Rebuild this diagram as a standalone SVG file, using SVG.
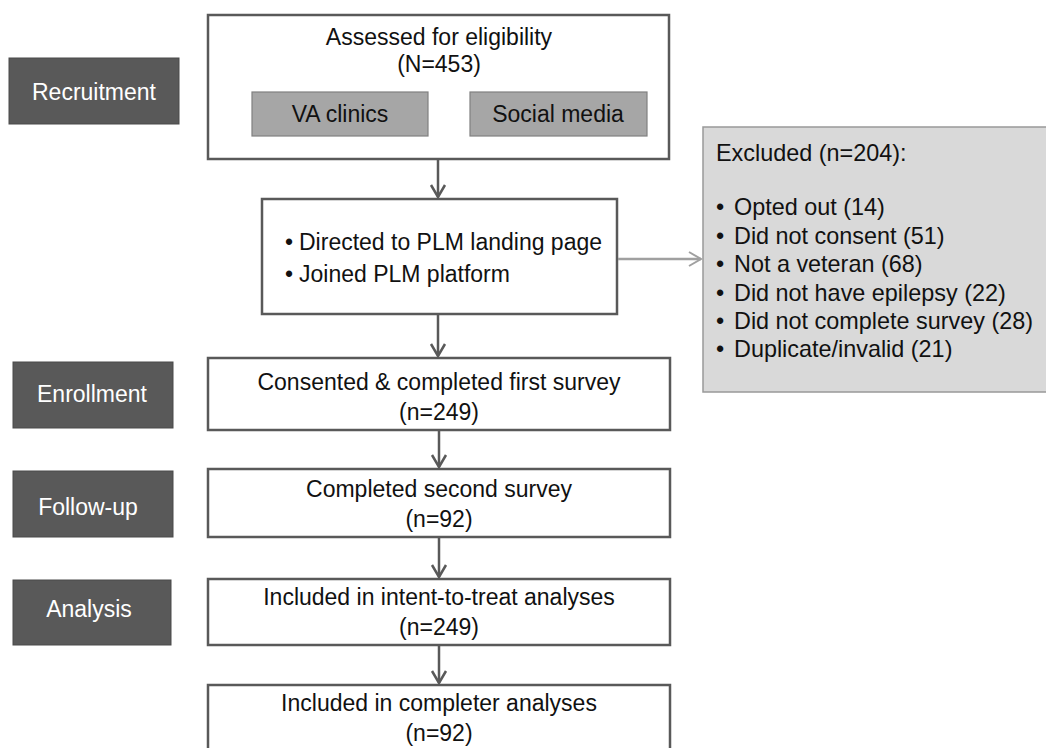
<svg xmlns="http://www.w3.org/2000/svg" width="1046" height="748" viewBox="0 0 1046 748">
<style>
text{font-family:"Liberation Sans",Arial,sans-serif;font-size:23px;fill:#111}
.stage rect{fill:#595959;stroke:#4a4a4a;stroke-width:1}
.stage text{fill:#fff;text-anchor:middle}
.main rect{fill:#fff;stroke:#595959;stroke-width:2.5}
.main text{text-anchor:middle}
.src rect{fill:#a6a6a6;stroke:#808080;stroke-width:1.2}
.src text{text-anchor:middle}
#excluded text{font-size:23.4px}
.conn{stroke:#595959;stroke-width:2.5;fill:none}
.conn-light{stroke:#a0a0a0;stroke-width:2.5;fill:none}
</style>
<defs>
<marker id="arr" markerUnits="userSpaceOnUse" markerWidth="16" markerHeight="18" viewBox="0 0 16 18" refX="13" refY="9" orient="auto">
<path d="M1,2 L13,9 L1,16" fill="none" stroke="#595959" stroke-width="2.5"/>
</marker>
<marker id="arrl" markerUnits="userSpaceOnUse" markerWidth="16" markerHeight="18" viewBox="0 0 16 18" refX="13" refY="9" orient="auto">
<path d="M1,2 L13,9 L1,16" fill="none" stroke="#a0a0a0" stroke-width="2"/>
</marker>
</defs>
<rect width="1046" height="748" fill="#fff"/>

<g id="stage-recruitment" class="stage"><rect x="9" y="58" width="170" height="66"/><text x="94" y="100">Recruitment</text></g>
<g id="stage-enrollment" class="stage"><rect x="13" y="362" width="160" height="66"/><text x="92" y="402">Enrollment</text></g>
<g id="stage-followup" class="stage"><rect x="13" y="471" width="160" height="66"/><text x="88" y="515">Follow-up</text></g>
<g id="stage-analysis" class="stage"><rect x="13" y="580" width="158" height="65"/><text x="89" y="617">Analysis</text></g>

<g id="assessed" class="main"><rect x="208" y="15" width="461" height="144"/><text x="439" y="45">Assessed for eligibility</text><text x="439" y="72">(N=453)</text></g>
<g id="va-clinics" class="src"><rect x="252" y="92" width="176" height="44"/><text x="340" y="122">VA clinics</text></g>
<g id="social-media" class="src"><rect x="470" y="92" width="177" height="44"/><text x="558" y="122">Social media</text></g>

<g id="plm" class="main"><rect x="262" y="199" width="355" height="115"/>
<text x="285" y="250" style="text-anchor:start">•</text><text x="299" y="250" style="text-anchor:start">Directed to PLM landing page</text>
<text x="285" y="282" style="text-anchor:start">•</text><text x="299" y="282" style="text-anchor:start">Joined PLM platform</text></g>

<g id="excluded"><rect x="703" y="127" width="350" height="265" fill="#d9d9d9" stroke="#999" stroke-width="1.5"/>
<text x="716" y="161">Excluded (n=204):</text>
<text x="716" y="215">•</text><text x="734" y="215">Opted out (14)</text>
<text x="716" y="244">•</text><text x="734" y="244">Did not consent (51)</text>
<text x="716" y="272">•</text><text x="734" y="272">Not a veteran (68)</text>
<text x="716" y="301">•</text><text x="734" y="301">Did not have epilepsy (22)</text>
<text x="716" y="329">•</text><text x="734" y="329">Did not complete survey (28)</text>
<text x="716" y="357">•</text><text x="734" y="357">Duplicate/invalid (21)</text></g>

<g id="consented" class="main"><rect x="208" y="358" width="462" height="72"/><text x="439" y="390">Consented &amp; completed first survey</text><text x="439" y="420">(n=249)</text></g>
<g id="second-survey" class="main"><rect x="208" y="469" width="462" height="68"/><text x="439" y="497">Completed second survey</text><text x="439" y="527">(n=92)</text></g>
<g id="itt" class="main"><rect x="208" y="579" width="462" height="66"/><text x="439" y="605">Included in intent-to-treat analyses</text><text x="439" y="635">(n=249)</text></g>
<g id="completer" class="main"><rect x="208" y="685" width="462" height="80"/><text x="439" y="711">Included in completer analyses</text><text x="439" y="741">(n=92)</text></g>

<g id="connectors">
<line class="conn" x1="438" y1="160" x2="438" y2="197" marker-end="url(#arr)"/>
<line class="conn" x1="438" y1="315" x2="438" y2="356" marker-end="url(#arr)"/>
<line class="conn" x1="439" y1="431" x2="439" y2="467" marker-end="url(#arr)"/>
<line class="conn" x1="439" y1="538" x2="439" y2="577" marker-end="url(#arr)"/>
<line class="conn" x1="439" y1="646" x2="439" y2="683" marker-end="url(#arr)"/>
<line class="conn-light" x1="618" y1="259" x2="701" y2="259" marker-end="url(#arrl)"/>
</g>
</svg>
